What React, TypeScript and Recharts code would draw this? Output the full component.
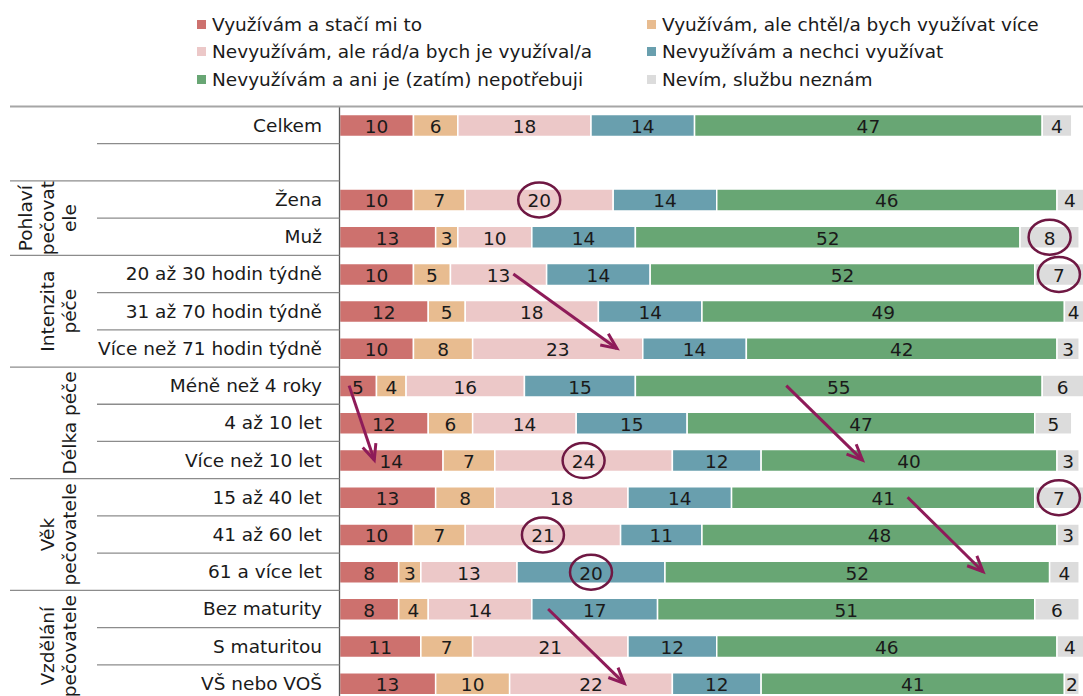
import React from 'react';
import { BarChart, Bar, XAxis, YAxis, LabelList, ReferenceLine } from 'recharts';

// rows of the chart (the blank row keeps a single space as its key)
const categories = [
  'Celkem',
  ' ',
  'Žena',
  'Muž',
  '20 až 30 hodin týdně',
  '31 až 70 hodin týdně',
  'Více než 71 hodin týdně',
  'Méně než 4 roky',
  '4 až 10 let',
  'Více než 10 let',
  '15 až 40 let',
  '41 až 60 let',
  '61 a více let',
  'Bez maturity',
  'S maturitou',
  'VŠ nebo VOŠ',
];

const seriesKeys = ['uses', 'wantMore', 'wouldLike', 'dontWant', 'notNeed', 'unknown'];
const seriesNames = [
  'Využívám a stačí mi to',
  'Využívám, ale chtěl/a bych využívat více',
  'Nevyužívám, ale rád/a bych je využíval/a',
  'Nevyužívám a nechci využívat',
  'Nevyužívám a ani je (zatím) nepotřebuji',
  'Nevím, službu neznám',
];
const seriesColors = ['#CD716E', '#E8BC90', '#ECC8C8', '#699FAE', '#68A674', '#DCDCDC'];

const uses = [10, null, 10, 13, 10, 12, 10, 5, 12, 14, 13, 10, 8, 8, 11, 13];
const wantMore = [6, null, 7, 3, 5, 5, 8, 4, 6, 7, 8, 7, 3, 4, 7, 10];
const wouldLike = [18, null, 20, 10, 13, 18, 23, 16, 14, 24, 18, 21, 13, 14, 21, 22];
const dontWant = [14, null, 14, 14, 14, 14, 14, 15, 15, 12, 14, 11, 20, 17, 12, 12];
const notNeed = [47, null, 46, 52, 52, 49, 42, 55, 47, 40, 41, 48, 52, 51, 46, 41];
const unknown = [4, null, 4, 8, 7, 4, 3, 6, 5, 3, 7, 3, 4, 6, 4, 2];

// row groups shown in the left column
const groupLabels = [
  ['Pohlaví', 'pečovat', 'ele'],
  ['Intenzita', 'péče'],
  ['Délka péče'],
  ['Věk', 'pečovatele'],
  ['Vzdělání', 'pečovatele'],
];
const groupStart = [2, 4, 7, 10, 13];
const groupSize = [2, 3, 3, 3, 3];

// circled values: [row, series]
const circled = [
  ['Žena', 'wouldLike'],
  ['Muž', 'unknown'],
  ['20 až 30 hodin týdně', 'unknown'],
  ['Více než 10 let', 'wouldLike'],
  ['15 až 40 let', 'unknown'],
  ['41 až 60 let', 'wouldLike'],
  ['61 a více let', 'dontWant'],
];

// arrows: [x from, row from, x to, row to]
const arrows: [number, string, number, string][] = [
  [23.5, '20 až 30 hodin týdně', 37.5, 'Více než 71 hodin týdně'],
  [1.3, 'Méně než 4 roky', 4.7, 'Více než 10 let'],
  [60.4, 'Méně než 4 roky', 70.7, 'Více než 10 let'],
  [76.8, '15 až 40 let', 87.0, '61 a více let'],
  [28.2, 'Bez maturity', 38.5, 'VŠ nebo VOŠ'],
];

const seriesValues = [uses, wantMore, wouldLike, dontWant, notNeed, unknown];
const data = categories.map((category, i) => {
  const row: Record<string, any> = { category };
  seriesKeys.forEach((k, s) => {
    row[k] = seriesValues[s][i];
  });
  return row;
});

const FONT = '"DejaVu Sans", Verdana, sans-serif';
const FS = 18.5;
const VIEW_W = 1083;
const W = 1094;
const H = 702;
const TOP = 106.5;
const LEFT = 339.5;
const BAND = (H - TOP) / categories.length;
const groupEnds = groupStart.map((s, g) => s + groupSize[g] - 1).concat([1]);

function CategoryTick(props: any) {
  const { y, payload } = props;
  const idx = categories.indexOf(payload.value);
  const g = groupStart.indexOf(idx);
  const bottom = y + BAND / 2;
  return (
    <g>
      {idx === 0 && (
        <line x1={10} x2={W} y1={y - BAND / 2} y2={y - BAND / 2} stroke="#A6A6A6" strokeWidth={2} />
      )}
      <text x={322} y={y} textAnchor="end" dominantBaseline="central" fontSize={FS} fill="#1a1a1a">
        {payload.value.trim()}
      </text>
      {idx < categories.length - 1 && (
        <line
          x1={groupEnds.includes(idx) ? 10 : 97}
          x2={LEFT}
          y1={bottom}
          y2={bottom}
          stroke="#8C8C8C"
          strokeWidth={1.3}
        />
      )}
      {g >= 0 &&
        groupLabels[g].map((line, i) => {
          const n = groupLabels[g].length;
          const cx = 76 - (n - 1 - i) * 22;
          const cy = y - BAND / 2 + (groupSize[g] * BAND) / 2;
          return (
            <text
              key={line}
              transform={`translate(${cx},${cy}) rotate(-90)`}
              textAnchor="middle"
              fontSize={FS}
              fill="#1a1a1a"
            >
              {line}
            </text>
          );
        })}
    </g>
  );
}

const makeLabel = (key: string) => (props: any) => {
  const { x, y, width, height, value } = props;
  if (value == null) return null;
  const left = Number(x);
  const right = Math.min(left + Number(width), VIEW_W);
  const cx = (left + right) / 2;
  const cy = Number(y) + Number(height) / 2;
  const row = categories[Math.floor((cy - TOP) / BAND)];
  const mark = circled.some(([c, k]) => c === row && k === key);
  return (
    <g>
      <text x={cx} y={cy + 1} textAnchor="middle" dominantBaseline="central" fontSize={FS} fill="#1a1a1a">
        {value}
      </text>
      {mark && <ellipse cx={cx} cy={cy} rx={21} ry={17.5} fill="none" stroke="#6F1843" strokeWidth={2.5} />}
    </g>
  );
};

function Arrow(props: any) {
  const { x1, y1, x2, y2 } = props;
  const a = Math.atan2(y2 - y1, x2 - x1);
  const len = 17;
  const spread = 0.42;
  const p1 = [x2 - len * Math.cos(a - spread), y2 - len * Math.sin(a - spread)];
  const p2 = [x2 - len * Math.cos(a + spread), y2 - len * Math.sin(a + spread)];
  return (
    <g>
      <line x1={x1} y1={y1} x2={x2} y2={y2} stroke="#8E1B59" strokeWidth={3} />
      <polyline
        points={`${p1[0]},${p1[1]} ${x2},${y2} ${p2[0]},${p2[1]}`}
        fill="none"
        stroke="#8E1B59"
        strokeWidth={3}
        strokeLinejoin="miter"
      />
    </g>
  );
}

function LegendBox() {
  return (
    <div style={{ position: 'absolute', left: 0, top: 0 }}>
      {seriesNames.map((name, i) => {
        const col = i % 2;
        const row = Math.floor(i / 2);
        return (
          <div
            key={name}
            style={{
              position: 'absolute',
              left: col === 0 ? 197 : 647,
              top: 24 + row * 27.5 - 12,
              height: 24,
              display: 'flex',
              alignItems: 'center',
              whiteSpace: 'nowrap',
              fontSize: FS,
              color: '#1a1a1a',
            }}
          >
            <span style={{ width: 9, height: 9, background: seriesColors[i], marginRight: 6 }} />
            {name}
          </div>
        );
      })}
    </div>
  );
}

export default function App() {
  return (
    <div
      style={{
        position: 'fixed',
        left: 0,
        top: 0,
        width: VIEW_W,
        height: 696,
        overflow: 'hidden',
        background: '#fff',
        fontFamily: FONT,
      }}
    >
      <LegendBox />
      <BarChart
        layout="vertical"
        width={W}
        height={H}
        data={data}
        margin={{ top: TOP, right: 0, bottom: 0, left: 0 }}
        barSize={22}
        style={{ fontFamily: FONT }}
      >
        <XAxis type="number" domain={[0, 102]} allowDataOverflow hide />
        <YAxis
          type="category"
          dataKey="category"
          width={LEFT}
          interval={0}
          tickLine={false}
          axisLine={{ stroke: '#595959', strokeWidth: 1.3 }}
          tick={(p: any) => <CategoryTick {...p} />}
        />
        {seriesKeys.map((k, s) => (
          <Bar
            key={k}
            dataKey={k}
            name={seriesNames[s]}
            stackId="a"
            fill={seriesColors[s]}
            stroke="#fff"
            strokeWidth={1.5}
            isAnimationActive={false}
          >
            <LabelList dataKey={k} content={makeLabel(k)} />
          </Bar>
        ))}
        {arrows.map(([xa, ra, xb, rb], i) => (
          <ReferenceLine
            key={i}
            segment={[
              { x: xa, y: ra },
              { x: xb, y: rb },
            ]}
            ifOverflow="visible"
            shape={(p: any) => <Arrow {...p} />}
          />
        ))}
      </BarChart>
    </div>
  );
}
